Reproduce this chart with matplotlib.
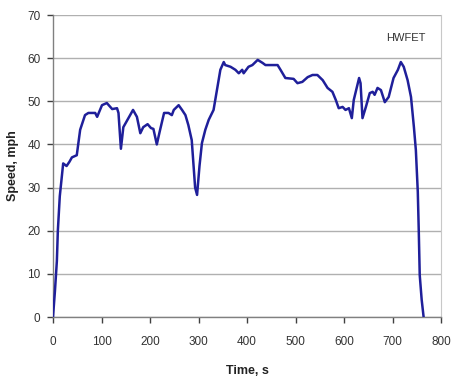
import matplotlib
matplotlib.use("Agg")
import matplotlib.pyplot as plt

time_s = [0, 4, 8, 10, 14, 21, 28, 34, 39, 49, 56, 66, 73, 87, 91, 101, 111, 122, 132, 135, 140,
          145, 155, 165, 173, 180, 186, 195, 202, 207, 214, 220, 229, 238, 245, 249, 259, 266,
          273, 279, 286, 293, 297, 302, 307, 314, 321, 331, 339, 345, 352, 355, 366, 376, 383,
          390, 393, 403, 411, 422, 432, 438, 463, 469, 479, 496, 504, 514, 525, 535, 545, 556,
          566, 576, 583, 589, 597, 603, 610, 616, 620, 631, 634, 638, 645, 653, 659, 663, 669,
          676, 684, 692, 702, 711, 717, 723, 731, 738, 744, 748, 752, 754, 756, 760, 764]
speed_mph = [0, 6, 13, 20, 28, 35.6, 35, 36, 37, 37.5, 43.4, 46.8, 47.3, 47.3, 46.4, 49.1, 49.6,
             48.2, 48.4, 47.3, 39, 44, 46, 48, 46.4, 42.6, 44, 44.7, 43.8, 43.6, 40, 43, 47.3,
             47.3, 46.8, 48, 49.1, 48, 46.8, 44.5, 41, 30, 28.3, 35, 40.3, 43.4, 45.7, 48, 53.3,
             57.3, 59.1, 58.4, 58, 57.3, 56.5, 57.3, 56.5, 58, 58.4, 59.6, 58.9, 58.4, 58.4, 57.3,
             55.4, 55.2, 54.2, 54.5, 55.6, 56.1, 56.1, 54.9, 53.1, 52.2, 50.3, 48.4, 48.7, 48,
             48.4, 46.1, 50.3, 55.4, 54.2, 46.1, 48.7, 51.9, 52.2, 51.5, 53.1, 52.6, 49.8, 51,
             55.4, 57.3, 59.1, 58, 54.9, 51, 44, 38.7, 29, 20, 9.7, 4, 0]

x_ticks = [0, 100, 200, 300, 400, 500, 600, 700, 800]
y_ticks = [0, 10, 20, 30, 40, 50, 60, 70]

plt.rcParams['font.family'] = ['Liberation Sans', 'DejaVu Sans']

fig = plt.figure(figsize=(4.51, 3.85), dpi=100)
ax = fig.add_axes([0.1175, 0.1766, 0.8605, 0.7844])

ax.plot(time_s, speed_mph, color='#1f1f9a', lw=1.8, zorder=3)

ax.set_xlim(0, 800)
ax.set_ylim(0, 70)
ax.set_xticks(x_ticks)
ax.set_yticks(y_ticks)
ax.grid(axis='y', color='#b0b0b0', lw=1.0)
ax.set_axisbelow(True)

for s in ['left', 'bottom']:
    ax.spines[s].set_color('#808080')
    ax.spines[s].set_linewidth(1.0)
ax.spines['right'].set_color('#c8c8c8')
ax.spines['top'].set_visible(False)

ax.tick_params(axis='both', direction='out', length=4, width=1, color='#404040',
               labelsize=8.5, labelcolor='#333333')
ax.tick_params(axis='x', pad=10)
ax.tick_params(axis='y', pad=5)

ax.set_xlabel('Time, s', fontsize=9, fontweight='bold', color='#222222', labelpad=12)
ax.set_ylabel('Speed, mph', fontsize=9, fontweight='bold', color='#222222', labelpad=6)

ax.text(727, 64.7, 'HWFET', ha='center', va='center', fontsize=8, color='#333333')

fig.savefig('out.png', dpi=100)
